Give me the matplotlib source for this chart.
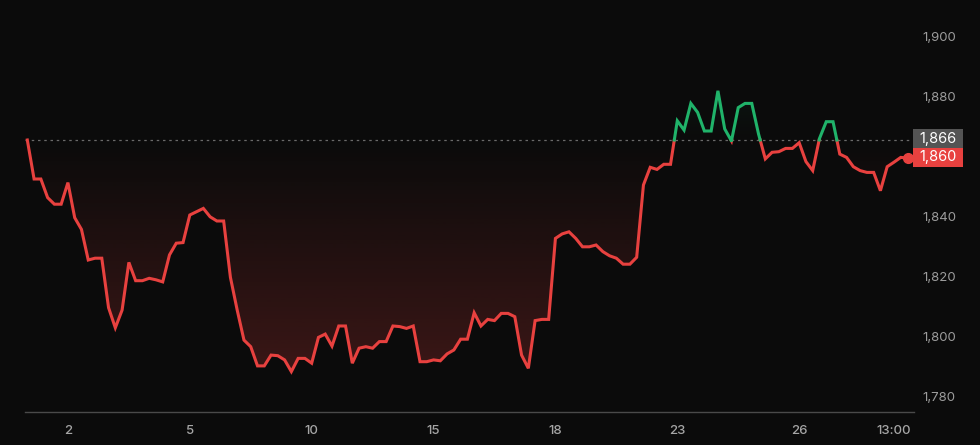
import numpy as np
import matplotlib
matplotlib.use("Agg")
import matplotlib.pyplot as plt
from matplotlib.patches import PathPatch, Rectangle

plt.rcParams['font.family'] = ['Inter', 'DejaVu Sans']

prices = [
    1866.0, 1853.0, 1853.0, 1846.8, 1844.6, 1844.6, 1851.8, 1840.1, 1836.2, 1826.0,
    1826.6, 1826.6, 1810.1, 1803.4, 1809.3, 1825.2, 1819.1, 1819.1, 1819.9, 1819.4,
    1818.7, 1827.7, 1831.6, 1831.8, 1841.0, 1842.1, 1843.2, 1840.4, 1839.0, 1839.0,
    1820.2, 1809.3, 1799.3, 1797.1, 1790.7, 1790.7, 1794.3, 1794.1, 1792.7, 1788.8,
    1793.2, 1793.2, 1791.6, 1800.2, 1801.3, 1797.3, 1804.0, 1804.0, 1791.6, 1796.6,
    1797.1, 1796.6, 1798.8, 1798.8, 1804.0, 1803.8, 1803.2, 1804.0, 1792.1, 1792.1,
    1792.7, 1792.4, 1794.7, 1796.0, 1799.6, 1799.6, 1808.4, 1804.0, 1806.2, 1805.8,
    1808.2, 1808.2, 1807.1, 1794.3, 1789.9, 1805.8, 1806.2, 1806.2, 1833.2, 1834.7,
    1835.4, 1833.2, 1830.4, 1830.4, 1831.0, 1828.8, 1827.4, 1826.6, 1824.6, 1824.6,
    1826.9, 1851.0, 1856.9, 1856.2, 1857.9, 1857.9, 1872.4, 1869.3, 1878.2, 1875.2,
    1869.0, 1869.0, 1882.4, 1869.7, 1865.7, 1876.8, 1878.2, 1878.2, 1868.0, 1859.7,
    1861.9, 1862.1, 1863.2, 1863.2, 1865.1, 1858.8, 1855.8, 1866.5, 1872.1, 1872.1,
    1861.3, 1860.2, 1857.1, 1855.8, 1855.2, 1855.2, 1849.1, 1857.1, 1858.6, 1860.2,
    1860.0,
]
baseline = 1866
last_price = 1860
tick_idx = [6, 24, 42, 60, 78, 96, 114, 128]
tick_labels = ['2', '5', '10', '15', '18', '23', '26', '13:00']
y_ticks = [1780, 1800, 1820, 1840, 1860, 1880, 1900]

BG = '#0b0b0b'
RED = '#e8413f'
GREEN = '#20b36a'

y = np.array(prices, dtype=float)
x = np.arange(len(y), dtype=float)

# insert crossing points
xx, yy = [x[0]], [y[0]]
for i in range(1, len(y)):
    y0, y1 = y[i - 1], y[i]
    if (y0 - baseline) * (y1 - baseline) < 0:
        t = (baseline - y0) / (y1 - y0)
        xx.append(x[i - 1] + t)
        yy.append(baseline)
    xx.append(x[i])
    yy.append(y1)
xx = np.array(xx)
yy = np.array(yy)

fig = plt.figure(figsize=(9.8, 4.45), dpi=100, facecolor=BG)
ax = fig.add_axes([25 / 980, 33 / 445, (914 - 25) / 980, 412 / 445])
ax.set_facecolor(BG)
ax.set_xlim(-0.34, 130.96)
ax.set_ylim(1775.33, 1912.67)


def grad_fill(mask, color, amax, y_far):
    poly = ax.fill_between(xx, yy, baseline, where=mask, interpolate=True,
                           color='none', linewidth=0)
    ext = [x[0], x[-1], min(y_far, baseline), max(y_far, baseline)]
    n = 256
    if y_far < baseline:
        a = np.linspace(amax, 0, n)
    else:
        a = np.linspace(0, amax, n)
    rgba = np.zeros((n, 1, 4))
    rgba[:, 0, :3] = matplotlib.colors.to_rgb(color)
    rgba[:, 0, 3] = a
    for p in poly.get_paths():
        im = ax.imshow(rgba, extent=ext, origin='lower', aspect='auto',
                       interpolation='bilinear', zorder=1)
        patch = PathPatch(p, transform=ax.transData, facecolor='none', edgecolor='none')
        ax.add_patch(patch)
        im.set_clip_path(patch)


grad_fill(yy <= baseline, RED, 0.22, 1788)
grad_fill(yy >= baseline, GREEN, 0.06, 1882)

red_y = np.where(yy <= baseline, yy, np.nan)
green_y = np.where(yy >= baseline, yy, np.nan)
ax.plot(xx, red_y, color=RED, lw=2.2, solid_joinstyle='miter', zorder=3)
ax.plot(xx, green_y, color=GREEN, lw=2.2, solid_joinstyle='miter', zorder=3)

ax.axhline(baseline, color='#6a6a6a', lw=0.9, linestyle=(0, (2, 3)), zorder=2)
ax.plot([x[-1]], [last_price], 'o', color=RED, ms=7, zorder=4, clip_on=False)

for s in ['top', 'right', 'left']:
    ax.spines[s].set_visible(False)
ax.spines['bottom'].set_color('#4a4a4a')
ax.spines['bottom'].set_linewidth(1.0)
ax.set_yticks([])
ax.set_xticks(tick_idx)
ax.set_xticklabels(tick_labels)
ax.tick_params(axis='x', length=0, pad=9, colors='#a6a6a6', labelsize=9.5)
for lbl in ax.get_xticklabels():
    lbl.set_fontweight('medium')

tr = matplotlib.transforms.blended_transform_factory(fig.transFigure, ax.transData)
for v in y_ticks:
    # tick labels hidden behind the price boxes are not drawn
    if abs(v - last_price) < 4 or abs(v - baseline) < 4:
        continue
    ax.text(922 / 980, v, f'{v:,}', transform=tr, color='#9c9c9c', fontsize=9.5,
            ha='left', va='center', clip_on=False)


def price_box(top_px, bottom_px, fc, label):
    fig.patches.append(Rectangle((913 / 980, (445 - bottom_px) / 445), 50 / 980,
                                 (bottom_px - top_px) / 445, transform=fig.transFigure,
                                 facecolor=fc, edgecolor='none', zorder=5))
    fig.text(938 / 980, (445 - (top_px + bottom_px) / 2) / 445, label, color='white',
             fontsize=10.5, ha='center', va='center', zorder=6)


price_box(129, 148, '#545454', f'{baseline:,}')
price_box(148, 167, RED, f'{last_price:,}')

fig.savefig('out.png', dpi=100, facecolor=BG)
